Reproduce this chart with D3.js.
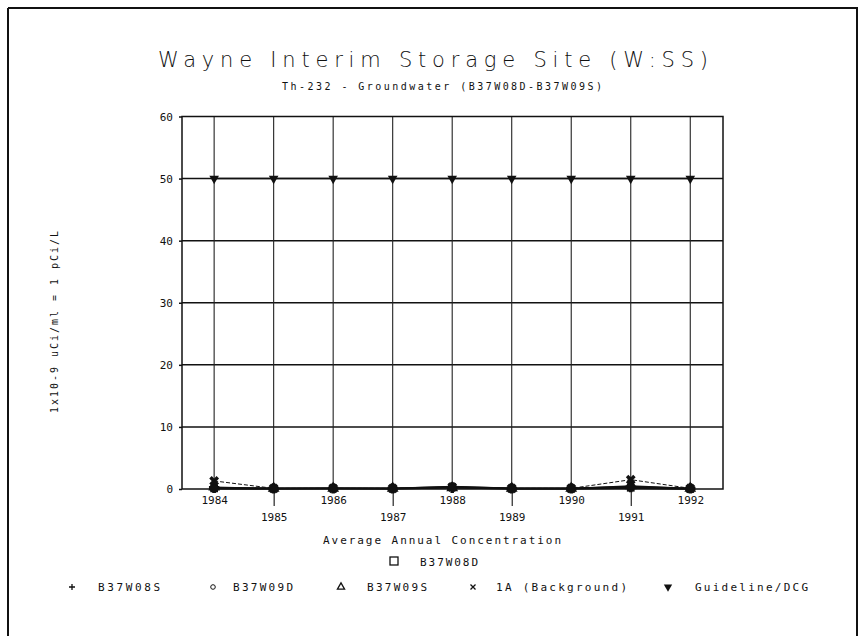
<!DOCTYPE html>
<html>
<head>
<meta charset="utf-8">
<script src="https://cdn.jsdelivr.net/npm/d3@7"></script>
<style>
  html, body { margin: 0; padding: 0; background: #fff; }
  svg { display: block; }
  text { font-family: "DejaVu Sans Mono", "Liberation Mono", monospace; fill: #111; }
  .light { font-family: "DejaVu Sans", "Noto Sans", sans-serif; font-weight: 200; }
</style>
</head>
<body>
<svg id="chart" width="866" height="636"></svg>
<script>
// ---- data ----
const years = [1984, 1985, 1986, 1987, 1988, 1989, 1990, 1991, 1992];
const yTicks = [0, 10, 20, 30, 40, 50, 60];
const b37w08d = [0.1, 0.05, 0.1, 0.05, 0.3, 0.05, 0.05, 0.2, 0.0];
const b37w08s = [0.2, 0.1, 0.1, 0.1, 0.2, 0.1, 0.1, 0.3, 0.1];
const b37w09d = [0.1, 0.1, 0.1, 0.1, 0.4, 0.1, 0.1, 0.4, 0.1];
const b37w09s = [0.3, 0.1, 0.1, 0.1, 0.2, 0.1, 0.1, 0.5, 0.1];
const background = [1.3, 0.1, 0.1, 0.1, 0.3, 0.1, 0.1, 1.5, 0.1];
const guideline = [50, 50, 50, 50, 50, 50, 50, 50, 50];
const seriesNames = ["B37W08D", "B37W08S", "B37W09D", "B37W09S", "1A (Background)", "Guideline/DCG"];

const titleText = "Wayne Interim Storage Site (W:SS)";
const subtitleText = "Th-232 - Groundwater (B37W08D-B37W09S)";
const yLabelText = "1x10-9 uCi/ml = 1 pCi/L";
const xLabelText = "Average Annual Concentration";

// ---- layout ----
const svg = d3.select("#chart");
const L = 182, R = 723, T = 116.5, B = 489;
const x = d3.scaleLinear().domain([1983.46, 1992.55]).range([L, R]);
const y = d3.scaleLinear().domain([0, 60]).range([B, T]);

// outer frame
const frame = svg.append("g").attr("stroke", "#111").attr("stroke-width", 2).attr("fill", "none");
frame.append("line").attr("x1", 8).attr("y1", 8).attr("x2", 858).attr("y2", 8);
frame.append("line").attr("x1", 8).attr("y1", 8).attr("x2", 8).attr("y2", 636);
frame.append("line").attr("x1", 857).attr("y1", 8).attr("x2", 857).attr("y2", 636);

// titles
svg.append("text").attr("class", "light").attr("x", 433).attr("y", 67).attr("text-anchor", "middle")
  .attr("font-size", 21).attr("textLength", 550).attr("lengthAdjust", "spacing")
  .text(titleText);
svg.append("text").attr("x", 442).attr("y", 90).attr("text-anchor", "middle")
  .attr("font-size", 10).attr("textLength", 320).attr("lengthAdjust", "spacing")
  .text(subtitleText);

// grid
const grid = svg.append("g");
grid.selectAll("line.h").data(yTicks.filter(d => d > 0 && d < 60)).join("line")
  .attr("x1", L).attr("x2", R).attr("y1", d => y(d)).attr("y2", d => y(d))
  .attr("stroke", "#111").attr("stroke-width", 1.5);
grid.selectAll("line.v").data(years).join("line")
  .attr("x1", d => x(d)).attr("x2", d => x(d)).attr("y1", T).attr("y2", B)
  .attr("stroke", "#222").attr("stroke-width", 1.1);

// plot border
svg.append("rect").attr("x", L).attr("y", T).attr("width", R - L).attr("height", B - T)
  .attr("fill", "none").attr("stroke", "#111").attr("stroke-width", 1.5);

// y axis
const yAxis = svg.append("g").attr("transform", `translate(${L},0)`)
  .call(d3.axisLeft(y).tickValues(yTicks).tickSize(3).tickPadding(6).tickFormat(d3.format("d")));
yAxis.select(".domain").remove();
yAxis.selectAll("line").attr("stroke", "#111").attr("stroke-width", 1.5);
yAxis.selectAll("text").attr("font-size", 11).style("font-family", "'DejaVu Sans Mono', monospace").attr("fill", "#111");

// x axis
const xAxis = svg.append("g").attr("transform", `translate(0,${B})`)
  .call(d3.axisBottom(x).tickValues(years).tickSize(0).tickPadding(0).tickFormat(d3.format("d")));
xAxis.select(".domain").remove();
xAxis.selectAll(".tick line")
  .attr("y2", (d, i) => (i % 2 ? 17 : 4)).attr("stroke", "#111").attr("stroke-width", 1.1);
xAxis.selectAll(".tick text")
  .attr("dy", null)
  .attr("y", (d, i) => (i % 2 ? 32 : 15))
  .attr("font-size", 11).style("font-family", "'DejaVu Sans Mono', monospace").attr("fill", "#111");

// axis labels
svg.append("text").attr("transform", "translate(58,322) rotate(-90)").attr("text-anchor", "middle")
  .attr("font-size", 10).attr("textLength", 182).attr("lengthAdjust", "spacing")
  .text(yLabelText);
svg.append("text").attr("x", 442).attr("y", 544).attr("text-anchor", "middle")
  .attr("font-size", 11).attr("textLength", 238).attr("lengthAdjust", "spacing")
  .text(xLabelText);

// series lines
const line = d3.line().x((d, i) => x(years[i])).y(d => y(d));
const seriesData = [b37w08d, b37w08s, b37w09d, b37w09s, background, guideline];
const lineStyles = [
  { w: 2.2, dash: null },
  { w: 1.4, dash: null },
  { w: 1.4, dash: null },
  { w: 1.2, dash: null },
  { w: 1.0, dash: "4,2" },
  { w: 1.5, dash: null }
];
svg.append("g").selectAll("path").data(seriesData).join("path")
  .attr("d", d => line(d)).attr("fill", "none").attr("stroke", "#111")
  .attr("stroke-width", (d, i) => lineStyles[i].w)
  .attr("stroke-dasharray", (d, i) => lineStyles[i].dash);

// markers (filled, dark)
const symTypes = [d3.symbolSquare, d3.symbolCross, d3.symbolCircle, d3.symbolTriangle, d3.symbolCross, d3.symbolTriangle];
const mk = svg.append("g");
seriesData.forEach((s, si) => {
  mk.selectAll(null).data(s).join("path")
    .attr("transform", (d, i) => `translate(${x(years[i])},${y(d)})` + (si === 5 ? " rotate(180)" : si === 4 ? " rotate(45)" : ""))
    .attr("d", d3.symbol().type(symTypes[si]).size(si === 5 ? 40 : 60))
    .attr("fill", "#111");
});

// legend
const lg = svg.append("g").attr("stroke", "#111").attr("fill", "none").attr("stroke-width", 1.3);
// B37W08D (open square)
lg.append("rect").attr("x", 390).attr("y", 557).attr("width", 8).attr("height", 8);
svg.append("text").attr("x", 420).attr("y", 566).attr("font-size", 11)
  .attr("textLength", 58).attr("lengthAdjust", "spacing").text(seriesNames[0]);

const ly = 587;
const legendItems = [
  { sx: 72, tx: 98, tw: 62 },
  { sx: 213, tx: 233, tw: 60 },
  { sx: 341, tx: 367, tw: 60 },
  { sx: 473, tx: 496, tw: 131 },
  { sx: 668, tx: 695, tw: 113 }
];
// plus
lg.append("path").attr("d", `M${legendItems[0].sx - 3},${ly} h6 M${legendItems[0].sx},${ly - 3} v6`);
// small circle
lg.append("circle").attr("cx", legendItems[1].sx).attr("cy", ly).attr("r", 2.3).attr("stroke-width", 1);
// triangle
lg.append("path").attr("d", d3.symbol().type(d3.symbolTriangle).size(22)).attr("transform", `translate(${legendItems[2].sx},${ly})`);
// x
lg.append("path").attr("d", `M${legendItems[3].sx - 2.5},${ly - 2.5} l5,5 M${legendItems[3].sx + 2.5},${ly - 2.5} l-5,5`);
// filled inverted triangle
svg.append("path").attr("d", d3.symbol().type(d3.symbolTriangle).size(30))
  .attr("transform", `translate(${legendItems[4].sx},${ly}) rotate(180)`).attr("fill", "#111");

legendItems.forEach((it, i) => {
  svg.append("text").attr("x", it.tx).attr("y", ly + 4).attr("font-size", 11)
    .attr("textLength", it.tw).attr("lengthAdjust", "spacing").text(seriesNames[i + 1]);
});
</script>
</body>
</html>
